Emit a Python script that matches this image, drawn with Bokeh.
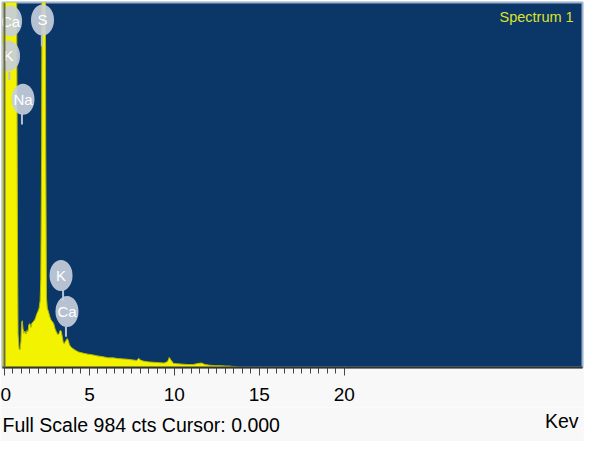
from bokeh.plotting import figure
from bokeh.layouts import column
from bokeh.models import Range1d, FixedTicker, Label, Span
from bokeh.core.properties import value
from bokeh.embed import file_html
from bokeh.resources import INLINE

# ---- spectrum data (energy keV, counts) ----
energy = [-0.12, -0.06, 0.00, 0.08, 0.16, 0.24, 0.32, 0.40, 0.48, 0.56,
          0.64, 0.70, 0.74, 0.77, 0.80, 0.86, 0.92, 0.97, 1.01, 1.05,
          1.09, 1.14, 1.20, 1.27, 1.33, 1.38, 1.44, 1.50, 1.56, 1.62,
          1.68, 1.74, 1.80, 1.86, 1.92, 1.98, 2.04, 2.10, 2.14, 2.19,
          2.23, 2.28, 2.34, 2.39, 2.43, 2.47, 2.52, 2.59, 2.66, 2.74,
          2.82, 2.90, 2.98, 3.06, 3.14, 3.22, 3.28, 3.34, 3.40, 3.46,
          3.52, 3.58, 3.64, 3.70, 3.76, 3.82, 3.90, 4.00, 4.15, 4.35,
          4.60, 4.90, 5.20, 5.50, 5.80, 6.10, 6.40, 6.70, 7.00, 7.30,
          7.60, 7.80, 7.90, 8.00, 8.20, 8.50, 8.80, 9.10, 9.40, 9.60,
          9.70, 9.80, 9.95, 10.2, 10.5, 10.8, 11.1, 11.4, 11.6, 11.8,
          12.1, 12.4, 12.7, 13.0, 13.2, 13.4, 13.6, 13.8]
counts = [1500, 1600, 1700, 1800, 2000, 2500, 2600, 2200, 2400, 2300,
          1800, 1200, 700, 300, 90, 50, 48, 70, 120, 126,
          105, 92, 98, 90, 100, 96, 116, 118, 108, 120,
          122, 126, 130, 138, 146, 152, 160, 180, 240, 600,
          1600, 2600, 2400, 1500, 600, 190, 160, 150, 138, 128,
          124, 118, 104, 96, 88, 92, 100, 98, 84, 68,
          64, 70, 74, 78, 72, 62, 56, 52, 47, 42,
          39, 36, 34, 31, 29, 26, 26, 24, 23, 22,
          20, 19, 25, 20, 17, 15, 14, 13, 12, 16,
          27, 20, 11, 10, 9, 8, 8, 11, 12, 8,
          6, 5, 5, 4, 4, 3, 2, 0]
assert len(energy) == len(counts)

full_scale = 984
cursor_kev = 0.0
tick_values = [0, 5, 10, 15, 20]
minor_tick_values = [i * 0.5 for i in range(41)]

# element markers
elements = ["Ca", "K", "Na", "S", "K", "Ca"]
label_e = [0.36, 0.24, 1.09, 2.24, 3.33, 3.68]
label_c = [934, 840, 723, 937, 248, 151]
stem_e = [1.03, 2.20, 3.45, 3.62, 0.29]
stem_c0 = [684, 895, 209, 110, 796]
stem_c1 = [655, 866, 180, 83, 775]

NAVY = "#0b3768"
YELLOW = "#f3f300"
PANEL = "#f8f8f8"
W = 584

p = figure(width=W, height=407,
           x_range=Range1d(-0.115, 34.02), y_range=Range1d(0, full_scale),
           output_backend="svg", toolbar_location=None,
           y_axis_location=None,
           min_border_left=2, min_border_right=2, min_border_top=2,
           min_border_bottom=40,
           background_fill_color=NAVY, border_fill_color=PANEL)
p.grid.visible = False
p.outline_line_color = "#9fb2cd"
p.outline_line_width = 2

p.varea(x=energy, y1=0, y2=counts, fill_color=YELLOW)
p.line(energy, counts, line_color="#b8b800", line_width=1)

p.add_layout(Span(location=cursor_kev, dimension="height",
                  line_color="#6a6a48", line_width=2))

p.segment(x0=stem_e, y0=stem_c0, x1=stem_e, y1=stem_c1,
          line_color="#b6c1d2", line_width=2)
p.ellipse(x=label_e, y=label_c, width=23, height=31,
          width_units="screen", height_units="screen",
          fill_color="#c6cedb", fill_alpha=0.92, line_color=None)
p.text(x=label_e, y=label_c, text=elements, text_align="center",
       text_baseline="middle", text_color="white",
       text_font=value("Liberation Sans"), text_font_size="15px")

p.add_layout(Label(x=33.5, y=945, text="Spectrum 1", text_align="right",
                   text_baseline="middle", text_color="#dde22a",
                   text_font="Liberation Sans", text_font_size="14.5px"))

ax = p.xaxis[0]
ax.ticker = FixedTicker(ticks=tick_values, minor_ticks=minor_tick_values)
ax.major_label_text_font_size = "19px"
ax.major_label_text_font = "Liberation Sans"
ax.major_label_text_color = "black"
ax.axis_line_color = "#333333"
ax.axis_line_width = 2
ax.major_tick_in = 0
ax.major_tick_out = 8
ax.minor_tick_in = 0
ax.minor_tick_out = 6
ax.major_tick_line_color = "#444444"
ax.minor_tick_line_color = "#444444"
ax.major_label_standoff = 12

# ---- footer status line ----
FOOT_H = 34
f = figure(width=W, height=FOOT_H, x_range=Range1d(0, W), y_range=Range1d(0, FOOT_H),
           output_backend="svg", toolbar_location=None,
           x_axis_location=None, y_axis_location=None,
           min_border=0, background_fill_color=PANEL, border_fill_color=PANEL)
f.grid.visible = False
f.outline_line_color = None
f.text(x=[0], y=[FOOT_H - 17],
       text=[f"Full Scale {full_scale} cts Cursor: {cursor_kev:.3f}"],
       text_align="left", text_baseline="middle", text_color="black",
       text_font=value("Liberation Sans"), text_font_size="19.5px")
f.text(x=[W - 4], y=[FOOT_H - 13], text=["Kev"],
       text_align="right", text_baseline="middle", text_color="black",
       text_font=value("Liberation Sans"), text_font_size="19.5px")

layout = column(p, f, spacing=0)
open("out.html", "w").write(file_html(layout, INLINE))
